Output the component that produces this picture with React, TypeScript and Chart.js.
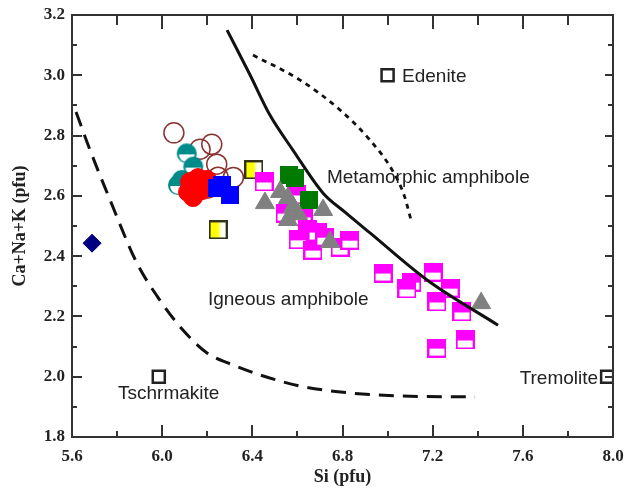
import React, { useEffect, useRef } from 'react';
import { Chart, registerables } from 'chart.js';
Chart.register(...registerables);

// Axis ticks
const xTickValues = [5.6, 6.0, 6.4, 6.8, 7.2, 7.6, 8.0];
const yTickValues = [1.8, 2.0, 2.2, 2.4, 2.6, 2.8, 3.0, 3.2];

// Boundary curves [Si, Ca+Na+K]
const solidCurve = [[6.288, 3.15], [6.39, 3.001], [6.478, 2.868], [6.58, 2.752], [6.714, 2.609], [6.811, 2.546], [6.922, 2.477], [7.175, 2.321], [7.49, 2.171]];
const dottedCurve = [[6.403, 3.067], [6.612, 2.984], [6.789, 2.885], [6.922, 2.785], [7.02, 2.686], [7.073, 2.603], [7.104, 2.52]];
const dashedCurve = [[5.618, 2.878], [5.68, 2.752], [5.769, 2.586], [5.888, 2.377], [5.99, 2.254], [6.092, 2.155], [6.199, 2.079], [6.314, 2.039], [6.434, 2.006], [6.612, 1.969], [6.833, 1.946], [7.055, 1.936], [7.388, 1.933]];

// End-member reference points
const endMembers = [[7.0, 3.0], [5.985, 2.0], [7.974, 2.0]];

// Sample series
const navyDiamonds = [[5.689, 2.443]];
const brownOpenCircles = [[6.052, 2.809], [6.168, 2.755], [6.22, 2.771], [6.242, 2.705], [6.316, 2.661], [6.248, 2.662], [6.203, 2.626]];
const tealHalfCircles = [[6.109, 2.741], [6.138, 2.697], [6.087, 2.653], [6.07, 2.636]];
const redCircles = [[6.124, 2.646], [6.159, 2.659], [6.199, 2.653], [6.115, 2.613], [6.137, 2.596], [6.177, 2.619], [6.212, 2.636]];
const blueSquares = [[6.243, 2.626], [6.265, 2.636], [6.301, 2.603]];
const yellowSquares = [[6.407, 2.686], [6.248, 2.487]];
const greenSquares = [[6.563, 2.669], [6.589, 2.659], [6.651, 2.586]];
const grayTriangles = [[6.456, 2.576], [6.523, 2.613], [6.558, 2.593], [6.58, 2.563], [6.558, 2.52], [6.603, 2.54], [6.714, 2.553], [6.745, 2.447], [7.415, 2.244]];
const magentaSquares = [[6.452, 2.646], [6.594, 2.603], [6.545, 2.543], [6.625, 2.53], [6.643, 2.487], [6.603, 2.454], [6.687, 2.48], [6.669, 2.42], [6.722, 2.463], [6.789, 2.43], [6.833, 2.453], [6.98, 2.344], [7.108, 2.314], [7.086, 2.291], [7.202, 2.347], [7.277, 2.294], [7.219, 2.248], [7.33, 2.215], [7.344, 2.122], [7.219, 2.095]];

// Text labels
const labelTexts = ['Edenite', 'Metamorphic amphibole', 'Igneous amphibole', 'Tschrmakite', 'Tremolite'];
const labelX = [7.064, 6.731, 6.203, 5.804, 7.934];
const labelY = [2.994, 2.659, 2.254, 1.943, 1.992];
const labelAlign = ['left', 'left', 'left', 'left', 'right'];

const pts = (a: number[][]) => a.map(([x, y]) => ({ x, y }));

function makeCanvas(w: number, h: number) {
  const c = document.createElement('canvas');
  c.width = w;
  c.height = h;
  return c;
}

function halfSquare(color: string, s: number) {
  const c = makeCanvas(s, s);
  const g = c.getContext('2d')!;
  g.fillStyle = color;
  g.fillRect(0, 0, s, s);
  g.fillStyle = '#ffffff';
  g.fillRect(2, Math.round(s * 0.55), s - 4, s - Math.round(s * 0.55) - 2);
  return c;
}

function solidSquare(color: string, s: number) {
  const c = makeCanvas(s, s);
  const g = c.getContext('2d')!;
  g.fillStyle = color;
  g.fillRect(0, 0, s, s);
  return c;
}

function yellowSquare(s: number) {
  const c = makeCanvas(s, s);
  const g = c.getContext('2d')!;
  g.fillStyle = '#333319';
  g.fillRect(0, 0, s, s);
  const grad = g.createLinearGradient(2, 0, s - 2, 0);
  grad.addColorStop(0, '#ffff00');
  grad.addColorStop(0.45, '#ffff00');
  grad.addColorStop(0.75, '#ffffff');
  grad.addColorStop(1, '#ffffff');
  g.fillStyle = grad;
  g.fillRect(2, 2, s - 4, s - 4);
  return c;
}

function tealHalf(r: number) {
  const s = 2 * r + 2;
  const c = makeCanvas(s, s);
  const g = c.getContext('2d')!;
  const cx = s / 2, cy = s / 2;
  g.fillStyle = '#008b8b';
  g.beginPath();
  g.arc(cx, cy, r, 0, Math.PI * 2);
  g.fill();
  g.fillStyle = '#ffffff';
  g.beginPath();
  g.arc(cx, cy + 1, r - 2.2, 0, Math.PI);
  g.closePath();
  g.fill();
  return c;
}

export default function App() {
  const ref = useRef<HTMLCanvasElement | null>(null);

  useEffect(() => {
    document.body.style.margin = '0';
    const canvas = ref.current;
    if (!canvas) return;

    const magentaStyle = halfSquare('#ff00ff', 19);
    const blueStyle = solidSquare('#0000ff', 18);
    const greenStyle = solidSquare('#007a00', 18);
    const yellowStyle = yellowSquare(19);
    const tealStyle = tealHalf(10);

    const axisColor = '#333333';
    const serif = "'Liberation Serif', 'Times New Roman', serif";
    const sans = "'Liberation Sans', Arial, sans-serif";

    const framePlugin = {
      id: 'frameTicks',
      afterDatasetsDraw(chart: any) {
        const { ctx, chartArea: a, scales } = chart;
        const xs = scales.x, ys = scales.y;
        ctx.save();
        ctx.strokeStyle = axisColor;
        ctx.lineWidth = 2;
        ctx.beginPath();
        for (let i = 0; i <= 12; i++) {
          const v = 5.6 + i * 0.2;
          const px = Math.round(xs.getPixelForValue(v));
          const major = i % 2 === 0;
          ctx.moveTo(px, a.bottom);
          ctx.lineTo(px, a.bottom - (major ? 12 : 6));
          ctx.moveTo(px, a.top);
          ctx.lineTo(px, a.top + (major ? 14 : 10));
        }
        for (let j = 0; j <= 14; j++) {
          const v = 1.8 + j * 0.1;
          const py = Math.round(ys.getPixelForValue(v));
          const major = j % 2 === 0;
          ctx.moveTo(a.left, py);
          ctx.lineTo(a.left + (major ? 10 : 5), py);
          ctx.moveTo(a.right, py);
          ctx.lineTo(a.right - (major ? 8 : 5), py);
        }
        ctx.stroke();
        ctx.strokeRect(a.left, a.top, a.right - a.left, a.bottom - a.top);
        ctx.restore();
      },
      afterDraw(chart: any) {
        const { ctx, scales } = chart;
        ctx.save();
        ctx.fillStyle = '#222222';
        ctx.font = `19px ${sans}`;
        ctx.textBaseline = 'middle';
        labelTexts.forEach((t, i) => {
          ctx.textAlign = labelAlign[i] as CanvasTextAlign;
          ctx.fillText(t, scales.x.getPixelForValue(labelX[i]), scales.y.getPixelForValue(labelY[i]));
        });
        ctx.restore();
      },
    };

    const lineDs = (data: number[][], dash: number[], width: number) => ({
      type: 'scatter' as const,
      data: pts(data),
      showLine: true,
      pointRadius: 0,
      borderColor: '#111111',
      borderWidth: width,
      borderDash: dash,
      cubicInterpolationMode: 'monotone' as const,
      fill: false,
      order: 0,
    });

    const chart = new Chart(canvas, {
      type: 'scatter',
      data: {
        datasets: [
          lineDs(solidCurve, [], 3),
          lineDs(dottedCurve, [5, 5], 2.8),
          lineDs(dashedCurve, [15, 9], 3),
          {
            data: pts(endMembers), pointStyle: 'rect', pointRadius: 8.5, borderWidth: 2.5,
            borderColor: '#222222', backgroundColor: '#ffffff', order: 1,
          },
          { data: pts(navyDiamonds), pointStyle: 'rectRot', pointRadius: 9, backgroundColor: '#000080', borderColor: '#000080', borderWidth: 1, order: 2 },
          { data: pts(grayTriangles), pointStyle: 'triangle', pointRadius: 11, backgroundColor: '#808080', borderColor: '#808080', borderWidth: 1, order: 3 },
          { data: pts(greenSquares), pointStyle: greenStyle, order: 4 },
          { data: pts(magentaSquares), pointStyle: magentaStyle, order: 5 },
          { data: pts(yellowSquares), pointStyle: yellowStyle, order: 6 },
          { data: pts(blueSquares), pointStyle: blueStyle, order: 7 },
          { data: pts(redCircles), pointStyle: 'circle', pointRadius: 9.5, backgroundColor: '#ff0000', borderColor: '#ff0000', borderWidth: 1, order: 8 },
          { data: pts(tealHalfCircles), pointStyle: tealStyle, order: 9 },
          { data: pts(brownOpenCircles), pointStyle: 'circle', pointRadius: 10, backgroundColor: 'rgba(0,0,0,0)', borderColor: '#8b3232', borderWidth: 1.5, order: 10 },
        ] as any,
      },
      options: {
        animation: false,
        responsive: false,
        devicePixelRatio: 1,
        layout: { padding: { left: 0, top: 15, right: 12, bottom: 0 } },
        plugins: { legend: { display: false }, tooltip: { enabled: false } },
        scales: {
          x: {
            type: 'linear',
            min: 5.6,
            max: 8.0,
            afterFit: (s: any) => { s.height = 58; s.paddingLeft = 0; s.paddingRight = 0; },
            afterBuildTicks: (s: any) => { s.ticks = xTickValues.map((v) => ({ value: v })); },
            grid: { display: false, drawTicks: false },
            border: { display: false },
            ticks: {
              padding: 9,
              color: '#222222',
              font: { family: serif, size: 17, weight: 'bold' },
              callback: (v: any) => Number(v).toFixed(1),
            },
            title: {
              display: true,
              text: 'Si (pfu)',
              color: '#222222',
              font: { family: serif, size: 18, weight: 'bold' },
              padding: { top: 0, bottom: 7 },
            },
          },
          y: {
            type: 'linear',
            min: 1.8,
            max: 3.2,
            afterFit: (s: any) => { s.width = 72; s.paddingTop = 0; s.paddingBottom = 0; },
            afterBuildTicks: (s: any) => { s.ticks = yTickValues.map((v) => ({ value: v })); },
            grid: { display: false, drawTicks: false },
            border: { display: false },
            ticks: {
              padding: 7,
              color: '#222222',
              font: { family: serif, size: 17, weight: 'bold' },
              callback: (v: any) => Number(v).toFixed(1),
            },
            title: {
              display: true,
              text: 'Ca+Na+K (pfu)',
              color: '#222222',
              font: { family: serif, size: 18, weight: 'bold' },
              padding: { top: 10, bottom: 0 },
            },
          },
        },
      },
      plugins: [framePlugin],
    });

    return () => chart.destroy();
  }, []);

  return (
    <div style={{ position: 'fixed', left: 0, top: 0, width: 625, height: 495, background: '#ffffff' }}>
      <canvas ref={ref} width={625} height={495} />
    </div>
  );
}
